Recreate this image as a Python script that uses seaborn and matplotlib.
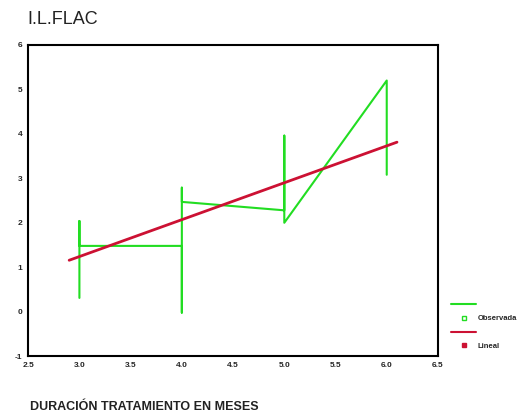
import numpy as np
import pandas as pd
import seaborn as sns
import matplotlib.pyplot as plt
from matplotlib.lines import Line2D

# Observed values, in the order SPSS connects them
obs_x = [3, 3, 3, 4, 4, 4, 4, 5, 5, 5, 6, 6]
obs_y = [0.31, 2.04, 1.48, 1.48, -0.02, 2.79, 2.47, 2.28, 3.96, 2.0, 5.2, 3.08]

# Linear fit (coefficients)
lin_b0 = -1.25
lin_b1 = 0.83
lin_x = [2.9, 6.1]

x_ticks = [2.5, 3.0, 3.5, 4.0, 4.5, 5.0, 5.5, 6.0, 6.5]
y_ticks = [-1, 0, 1, 2, 3, 4, 5, 6]

obs = pd.DataFrame({'x': obs_x, 'y': obs_y})
lin = pd.DataFrame({'x': lin_x})
lin['y'] = lin_b0 + lin_b1 * lin['x']

sns.set_style('white')
plt.rcParams['font.family'] = ['Liberation Sans', 'DejaVu Sans']

green = '#22dd22'
red = '#cc1133'

fig = plt.figure(figsize=(5.22, 4.2), dpi=100)
ax = fig.add_axes([0.054, 0.152, 0.785, 0.741])

sns.lineplot(data=obs, x='x', y='y', sort=False, estimator=None, color=green, linewidth=1.5, ax=ax)
sns.lineplot(data=lin, x='x', y='y', sort=False, estimator=None, color=red, linewidth=2, ax=ax)

ax.set_xlim(2.5, 6.5)
ax.set_ylim(-1, 6)
ax.set_xticks(x_ticks)
ax.set_xticklabels([f'{v:.1f}' for v in x_ticks])
ax.set_yticks(y_ticks)
ax.set_yticklabels([str(v) for v in y_ticks])
ax.tick_params(axis='both', labelsize=6, length=2, width=1, pad=2, direction='out')
for lbl in ax.get_xticklabels() + ax.get_yticklabels():
    lbl.set_fontweight('bold')
for s in ax.spines.values():
    s.set_color('black')
    s.set_linewidth(1.5)
ax.set_xlabel('')
ax.set_ylabel('')

fig.text(0.052, 0.953, 'I.L.FLAC', fontsize=13, ha='left', va='center', color='#222222')
fig.text(0.057, 0.03, 'DURACIÓN TRATAMIENTO EN MESES', fontsize=9, fontweight='bold',
         ha='left', va='center', color='#222222')

# SPSS-style legend: line on one row, marker + label on the next
handles = [
    Line2D([], [], color=green, linewidth=1.5),
    Line2D([], [], linestyle='none', marker='s', markersize=3, markerfacecolor='white', markeredgecolor=green),
    Line2D([], [], color=red, linewidth=1.5),
    Line2D([], [], linestyle='none', marker='s', markersize=3, markerfacecolor=red, markeredgecolor=red),
]
fig.legend(handles, ['', 'Observada', '', 'Lineal'], loc='upper left', bbox_to_anchor=(0.858, 0.29),
           frameon=False, prop={'weight': 'bold', 'size': 5.5}, handlelength=3.3,
           handletextpad=0.2, labelspacing=0.85, borderaxespad=0)

fig.savefig('out.png', dpi=100)
